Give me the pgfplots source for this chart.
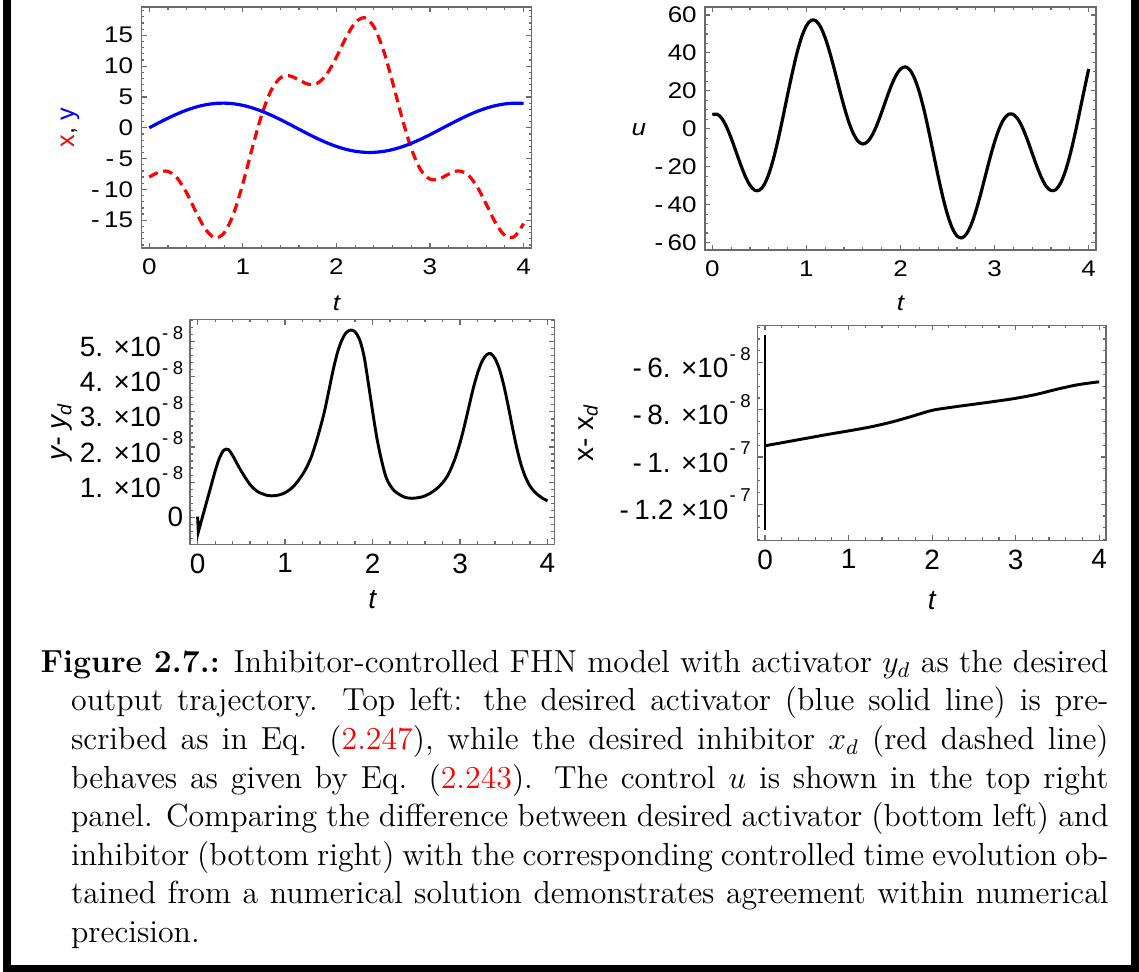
\documentclass[border=0pt]{standalone}
\usepackage{fontspec}
\usepackage{pgfplots}
\pgfplotsset{compat=1.18}
\newfontfamily\arial{Liberation Sans}
\newfontfamily\arialw[FakeStretch=1.15]{Liberation Sans}
\definecolor{framegray}{gray}{0.42}
\newcommand\topfont{\arialw\fontsize{8.5}{10}\selectfont}
\newcommand\toplab{\arial\fontsize{9.5}{11}\selectfont}
\newcommand\botfont{\arial\fontsize{10.5}{12}\selectfont}
\newcommand\sci[2]{#1 ×10\hspace{0.04em}\raisebox{0.62em}{\fontsize{7}{8}\selectfont -\hspace{0.25em}#2}}
\newcommand\mn{-\hspace{0.2em}}
\pgfplotsset{
  mma/.style={
    scale only axis,
    anchor=south west,
    axis line style={framegray, line width=0.5pt},
    tick align=inside,
    every tick/.style={framegray, line width=0.45pt},
    major tick length=1.9pt,
    minor tick length=1.1pt,
    xtick={0,1,2,3,4},
    xticklabels={0,1,2,3,4},
    minor xtick={0,0.2,...,4},
    tick label style={text=black},
    clip=true,
  },
}
\begin{document}
\begin{tikzpicture}
\useasboundingbox (0,0) rectangle (428.26pt,365.47pt);
% frame bars
\fill[black] (1.13pt,0) rectangle (4.14pt,365.47pt);
\fill[black] (425.26pt,0) rectangle (428.26pt,365.47pt);
\fill[black] (1.13pt,0) rectangle (428.26pt,2.63pt);

% ---------- top left
\begin{axis}[mma,
  at={(53.20pt,272.22pt)}, width=146.64pt, height=90.62pt,
  xmin=-0.083, xmax=4.085, ymin=-19.5, ymax=19.6,
  ytick={-15,-10,-5,0,5,10,15},
  yticklabels={\mn 15,\mn 10,\mn 5,0,5,10,15},
  minor ytick={-19,-18,...,19},
  tick label style={font=\topfont},
  xticklabel style={yshift=-0.6pt},
  yticklabel style={xshift=0.4pt},
  every axis y label/.style={at={(axis description cs:-0.183,0.5)}, anchor=center, rotate=90, font=\toplab},
  every axis x label/.style={at={(axis description cs:0.5,-0.23)}, anchor=center, font=\topfont\itshape},
  ylabel={\textcolor{red}{x}, \textcolor{blue}{y}},
  xlabel={t},
]
\addplot[red, line width=1.2pt, dash pattern=on 3.6pt off 2.1pt, smooth] coordinates {
(0,-8.000) (0.1,-7.213) (0.2,-7.071) (0.3,-8.185) (0.4,-10.580) (0.5,-13.667)
(0.6,-16.444) (0.7,-17.834) (0.8,-17.074) (0.9,-13.990) (1.0,-9.073)
(1.1,-3.333) (1.2,2.026) (1.3,5.995) (1.4,8.076) (1.5,8.424) (1.6,7.757)
(1.7,7.068) (1.8,7.253) (1.9,8.767) (2.0,11.449) (2.1,14.561) (2.2,17.035)
(2.3,17.855) (2.4,16.404) (2.5,12.706) (2.6,7.428) (2.7,1.676) (2.8,-3.363)
(2.9,-6.803) (3.0,-8.334) (3.1,-8.292) (3.2,-7.513) (3.3,-7.001) (3.4,-7.552)
(3.5,-9.453) (3.6,-12.358) (3.7,-15.398) (3.8,-17.484) (3.9,-17.677) (4.0,-15.538)};
\addplot[blue, line width=1.2pt, smooth] coordinates {
(0,0) (0.1,0.795) (0.2,1.558) (0.3,2.259) (0.4,2.869) (0.5,3.366) (0.6,3.728)
(0.7,3.942) (0.8,3.998) (0.9,3.895) (1.0,3.637) (1.1,3.234) (1.2,2.702) (1.3,2.062)
(1.4,1.340) (1.5,0.564) (1.6,-0.233) (1.7,-1.022) (1.8,-1.770) (1.9,-2.447)
(2.0,-3.027) (2.1,-3.486) (2.2,-3.806) (2.3,-3.975) (2.4,-3.985) (2.5,-3.836)
(2.6,-3.534) (2.7,-3.091) (2.8,-2.525) (2.9,-1.858) (3.0,-1.118) (3.1,-0.332)
(3.2,0.466) (3.3,1.246) (3.4,1.976) (3.5,2.628) (3.6,3.175) (3.7,3.595)
(3.8,3.872) (3.9,3.994) (4.0,3.957)};
\end{axis}

% ---------- top right
\begin{axis}[mma,
  at={(265.08pt,271.47pt)}, width=147.02pt, height=91.37pt,
  xmin=-0.078, xmax=4.078, ymin=-63.9, ymax=64.2,
  ytick={-60,-40,-20,0,20,40,60},
  yticklabels={\mn 60,\mn 40,\mn 20,0,20,40,60},
  minor ytick={-60,-55,...,60},
  tick label style={font=\topfont},
  xticklabel style={yshift=-0.6pt},
  yticklabel style={xshift=0.4pt},
  every axis y label/.style={at={(axis description cs:-0.169,0.494)}, anchor=center, font=\topfont\itshape},
  every axis x label/.style={at={(axis description cs:0.5,-0.218)}, anchor=center, font=\topfont\itshape},
  ylabel={u},
  xlabel={t},
]
\addplot[black, line width=1.2pt, smooth] coordinates {
(0,7.43) (0.05,7.71) (0.1,5.49) (0.15,1.09) (0.2,-4.91) (0.25,-11.82) (0.3,-18.81)
(0.35,-25.06) (0.4,-29.80) (0.45,-32.39) (0.5,-32.38) (0.55,-29.54) (0.6,-23.89)
(0.65,-15.71) (0.7,-5.51) (0.75,6.00) (0.8,18.02) (0.85,29.51) (0.9,40.08)
(0.95,48.50) (1.0,54.33) (1.05,57.19) (1.1,56.94) (1.15,53.70) (1.2,47.83)
(1.25,39.92) (1.3,30.70) (1.35,21.02) (1.4,11.71) (1.45,3.58) (1.5,-2.70)
(1.55,-6.65) (1.6,-8.03) (1.65,-6.81) (1.7,-3.27) (1.75,2.15) (1.8,8.78)
(1.85,15.83) (1.9,22.48) (1.95,27.95) (2.0,31.50) (2.05,32.62) (2.1,30.96)
(2.15,26.47) (2.2,19.28) (2.25,9.93) (2.3,-1.21) (2.35,-13.13) (2.4,-25.04)
(2.45,-36.06) (2.5,-45.40) (2.55,-52.37) (2.6,-56.49) (2.65,-57.53) (2.7,-55.50)
(2.75,-50.67) (2.8,-43.53) (2.85,-34.75) (2.9,-25.15) (2.95,-15.59) (3.0,-6.89)
(3.05,0.24) (3.1,5.20) (3.15,7.66) (3.2,7.51) (3.25,4.89) (3.3,0.18) (3.35,-6.03)
(3.4,-13.00) (3.45,-19.93) (3.5,-25.98) (3.55,-30.41) (3.6,-32.58) (3.65,-32.10)
(3.7,-28.78) (3.75,-22.68) (3.8,-14.12) (3.85,-3.65) (3.9,8.01) (3.95,19.86) (4.0,31.53)};
\end{axis}

% ---------- bottom left
\begin{axis}[mma,
  at={(71.44pt,160.82pt)}, width=136.98pt, height=84.52pt,
  xmin=-0.087, xmax=4.078, ymin=-0.769, ymax=5.632,
  ytick={0,1,2,3,4,5},
  yticklabels={0,\sci{1.}{8},\sci{2.}{8},\sci{3.}{8},\sci{4.}{8},\sci{5.}{8}},
  minor ytick={-0.6,-0.4,...,5.6},
  tick label style={font=\botfont},
  yticklabel style={xshift=1pt},
  every axis y label/.style={at={(axis description cs:-0.35,0.5)}, anchor=center, rotate=90, font=\botfont\itshape},
  every axis x label/.style={at={(axis description cs:0.5,-0.248)}, anchor=center, font=\botfont\itshape},
  ylabel={y- y\textsubscript{d}},
  xlabel={t},
]
\addplot[black, line width=1.1pt] coordinates {
(0,0.02) (0.008,-0.42) (0.10,0.41) (0.15,0.86)};
\addplot[black, line width=1.1pt, smooth] coordinates {
(0.15,0.86) (0.20,1.31) (0.25,1.69) (0.30,1.91) (0.35,1.93) (0.40,1.76)
(0.45,1.53) (0.50,1.31) (0.55,1.11) (0.60,0.93) (0.65,0.80) (0.70,0.71)
(0.75,0.66) (0.80,0.62) (0.85,0.61) (0.90,0.62) (0.95,0.65) (1.00,0.70)
(1.05,0.78) (1.10,0.89) (1.15,1.04) (1.20,1.22) (1.25,1.44) (1.30,1.72)
(1.35,2.10) (1.40,2.53) (1.45,3.01) (1.50,3.60) (1.55,4.20) (1.60,4.70)
(1.65,5.05) (1.70,5.26) (1.75,5.33) (1.80,5.28) (1.85,5.07) (1.90,4.62)
(1.95,3.85) (2.00,3.02) (2.05,2.25) (2.10,1.65) (2.15,1.17) (2.20,0.91)
(2.25,0.75) (2.30,0.66) (2.35,0.59) (2.40,0.55) (2.45,0.54) (2.50,0.55)
(2.55,0.57) (2.60,0.61) (2.65,0.67) (2.70,0.75) (2.75,0.85) (2.80,0.98)
(2.85,1.15) (2.90,1.40) (2.95,1.72) (3.00,2.12) (3.05,2.60) (3.10,3.13)
(3.15,3.66) (3.20,4.10) (3.25,4.43) (3.30,4.62) (3.35,4.66) (3.40,4.52)
(3.45,4.22) (3.50,3.76) (3.55,3.18) (3.60,2.55) (3.65,1.96) (3.70,1.48)
(3.75,1.13) (3.80,0.89) (3.85,0.73) (3.90,0.62) (3.95,0.53) (4.00,0.47)};
\end{axis}

% ---------- bottom right
\begin{axis}[mma,
  at={(284.82pt,162.32pt)}, width=131.04pt, height=80.84pt,
  xmin=-0.09, xmax=4.082, ymin=-13.525, ymax=-4.415,
  ytick={-12,-10,-8,-6},
  yticklabels={\mn\sci{1.2}{7},\mn\sci{1.}{7},\mn\sci{8.}{8},\mn\sci{6.}{8}},
  minor ytick={-13.5,-13,...,-4.5},
  tick label style={font=\botfont},
  yticklabel style={xshift=1pt},
  every axis y label/.style={at={(axis description cs:-0.486,0.5)}, anchor=center, rotate=90, font=\botfont},
  every axis x label/.style={at={(axis description cs:0.5,-0.282)}, anchor=center, font=\botfont\itshape},
  ylabel={x- x\textsubscript{\itshape d}},
  xlabel={t},
]
\addplot[black, line width=1.1pt] coordinates {(0,-4.83) (0,-13.09)};
\addplot[black, line width=1.1pt, smooth] coordinates {
(0,-9.52) (0.25,-9.36) (0.5,-9.20) (0.75,-9.04) (1.0,-8.89) (1.25,-8.73)
(1.5,-8.53) (1.75,-8.28) (2.0,-8.02) (2.25,-7.88) (2.5,-7.76) (2.75,-7.64)
(3.0,-7.51) (3.25,-7.34) (3.5,-7.12) (3.75,-6.93) (4.0,-6.81)};
\end{axis}

% ---------- caption
\node[anchor=north west, inner sep=0pt] at (15.04pt,121.2pt) {\fontsize{12}{14.5}\selectfont
\vbox{\baselineskip=14.5pt\lineskiplimit=-20pt
\hbox to 401.6pt{\textbf{Figure 2.7.:} Inhibitor-controlled FHN model with activator $y_d$ as the desired}
\hbox to 401.6pt{\hskip 11.5pt\hbox to 390.1pt{output trajectory.  Top left:  the desired activator (blue solid line) is pre-}}
\hbox to 401.6pt{\hskip 11.5pt\hbox to 390.1pt{scribed as in Eq.  (\textcolor{red}{2.247}), while the desired inhibitor $x_d$ (red dashed line)}}
\hbox to 401.6pt{\hskip 11.5pt\hbox to 390.1pt{behaves as given by Eq.  (\textcolor{red}{2.243}).  The control $u$ is shown in the top right}}
\hbox to 401.6pt{\hskip 11.5pt\hbox to 390.1pt{panel. Comparing the difference between desired activator (bottom left) and}}
\hbox to 401.6pt{\hskip 11.5pt\hbox to 390.1pt{inhibitor (bottom right) with the corresponding controlled time evolution ob-}}
\hbox to 401.6pt{\hskip 11.5pt\hbox to 390.1pt{tained from a numerical solution demonstrates agreement within numerical}}
\hbox to 401.6pt{\hskip 11.5pt precision.\hfil}
}};
\end{tikzpicture}
\end{document}
